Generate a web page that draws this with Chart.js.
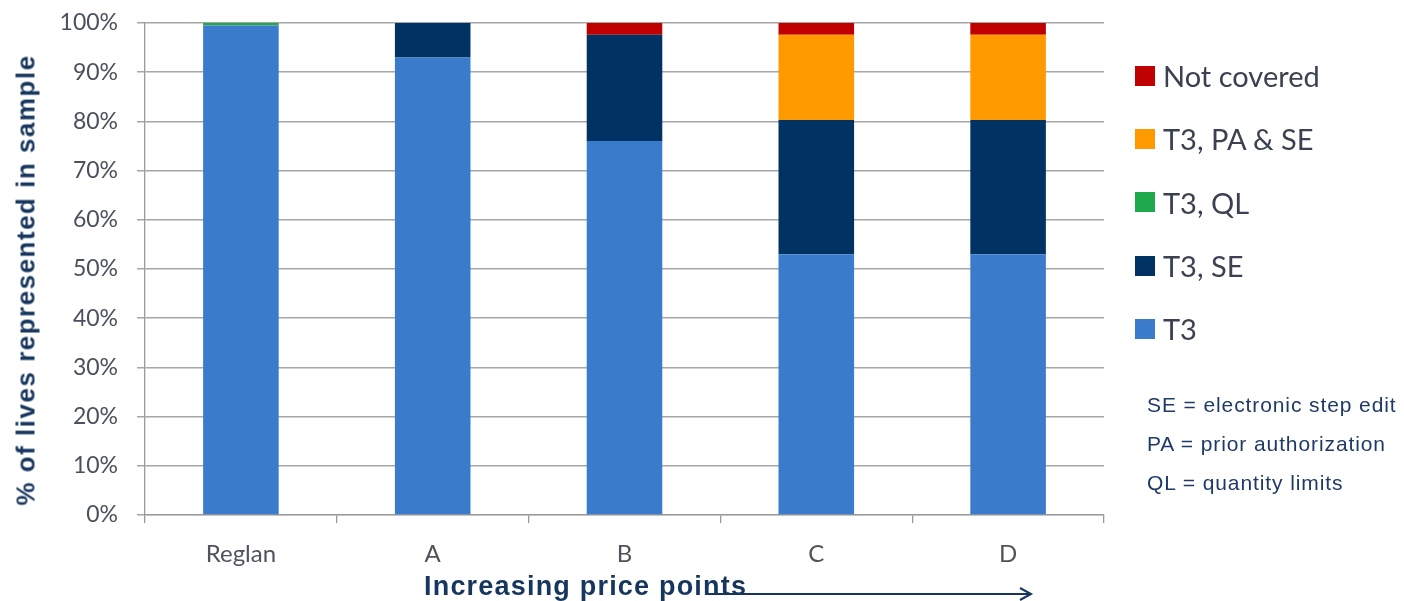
<!DOCTYPE html>
<html>
<head>
<meta charset="utf-8">
<script src="https://cdn.jsdelivr.net/npm/chart.js@4.4.1/dist/chart.umd.min.js"></script>
<style>
  html, body { margin: 0; padding: 0; background: #fff; }
  #wrap { position: relative; width: 1404px; height: 601px; }
  #legend { position: absolute; left: 1135px; top: 44px; font-family: Lato, sans-serif; font-size: 29px; color: #3b4150; }
  #legend .item { display: flex; align-items: center; height: 63.3px; }
  #legend .box { width: 20px; height: 20px; margin-right: 8px; }
  #notes { position: absolute; left: 1147px; top: 385px; font-family: "Liberation Sans", Arial, sans-serif; font-size: 21px; letter-spacing: 0.9px; color: #1f3a68; line-height: 39px; }
  #ytitle { position: absolute; left: 26px; top: 280px; transform: translate(-50%, -50%) rotate(-90deg); white-space: nowrap; font-family: "Liberation Sans", Arial, sans-serif; font-weight: bold; font-size: 26px; letter-spacing: 1.5px; color: #17365d; }
  #xtitle { position: absolute; left: 424px; top: 571px; white-space: nowrap; font-family: "Liberation Sans", Arial, sans-serif; font-weight: bold; font-size: 27px; letter-spacing: 1.2px; color: #17365d; }
</style>
</head>
<body>
<div id="wrap">
  <canvas id="chart" width="1404" height="601"></canvas>
  <div id="ytitle">% of lives represented in sample</div>
  <div id="xtitle">Increasing price points</div>
  <div id="legend"></div>
  <div id="notes">
    <div>SE = electronic step edit</div>
    <div>PA = prior authorization</div>
    <div>QL = quantity limits</div>
  </div>
</div>
<script>
const products = ['Reglan', 'A', 'B', 'C', 'D'];
const yTicks = [0, 10, 20, 30, 40, 50, 60, 70, 80, 90, 100];

// share of lives (%) per coverage tier, stacked bottom to top
const t3 = [99.5, 93, 76, 53, 53];
const t3Se = [0, 7, 21.6, 27.3, 27.3];
const t3Ql = [0.5, 0, 0, 0, 0];
const t3PaSe = [0, 0, 0, 17.3, 17.3];
const notCovered = [0, 0, 2.4, 2.4, 2.4];

const seriesNames = ['T3', 'T3, SE', 'T3, QL', 'T3, PA & SE', 'Not covered'];
const seriesColors = ['#3a7bcb', '#003264', '#1ea94d', '#ff9900', '#c00000'];
const seriesData = [t3, t3Se, t3Ql, t3PaSe, notCovered];

const datasets = seriesNames.map((name, i) => ({
  label: name,
  data: seriesData[i],
  backgroundColor: seriesColors[i],
  borderWidth: 0,
  categoryPercentage: 1,
  barPercentage: 0.394
}));

// legend on the right, top item is the top of the stack
const legendEl = document.getElementById('legend');
for (let i = seriesNames.length - 1; i >= 0; i--) {
  const row = document.createElement('div');
  row.className = 'item';
  row.innerHTML = '<span class="box" style="background:' + seriesColors[i] + '"></span>' + seriesNames[i];
  legendEl.appendChild(row);
}

// arrow under the x axis
const arrowPlugin = {
  id: 'priceArrow',
  afterDraw(chart) {
    const ctx = chart.ctx;
    ctx.save();
    ctx.strokeStyle = '#17365d';
    ctx.lineWidth = 2;
    ctx.beginPath();
    ctx.moveTo(708, 594);
    ctx.lineTo(1030, 594);
    ctx.moveTo(1020, 588);
    ctx.lineTo(1031, 594);
    ctx.lineTo(1020, 600);
    ctx.stroke();
    ctx.restore();
  }
};

new Chart(document.getElementById('chart'), {
  type: 'bar',
  data: { labels: products, datasets: datasets },
  plugins: [arrowPlugin],
  options: {
    responsive: false,
    animation: false,
    layout: { padding: { left: 0, right: 300, top: 23, bottom: 0 } },
    plugins: {
      legend: { display: false },
      tooltip: { enabled: false }
    },
    scales: {
      x: {
        stacked: true,
        afterFit: (s) => { s.height = 86; },
        grid: { drawOnChartArea: false, offset: true, tickLength: 8, color: '#9a9a9a', lineWidth: 1.3 },
        border: { color: '#9a9a9a', width: 1.3 },
        ticks: { padding: 17, color: '#4f535c', font: { family: 'Lato', size: 24 } }
      },
      y: {
        stacked: true,
        min: 0,
        max: 100,
        afterFit: (s) => { s.width = 145; s.paddingTop = 8; s.paddingBottom = 8; },
        afterBuildTicks: (s) => { s.ticks = yTicks.map(v => ({ value: v })); },
        grid: { color: '#a6a6a6', lineWidth: 1.5, tickLength: 8 },
        border: { color: '#9a9a9a', width: 1.3 },
        ticks: { padding: 19, color: '#4a505c', font: { family: 'Lato', size: 23 }, callback: (v) => v + '%' }
      }
    }
  }
});
</script>
</body>
</html>
